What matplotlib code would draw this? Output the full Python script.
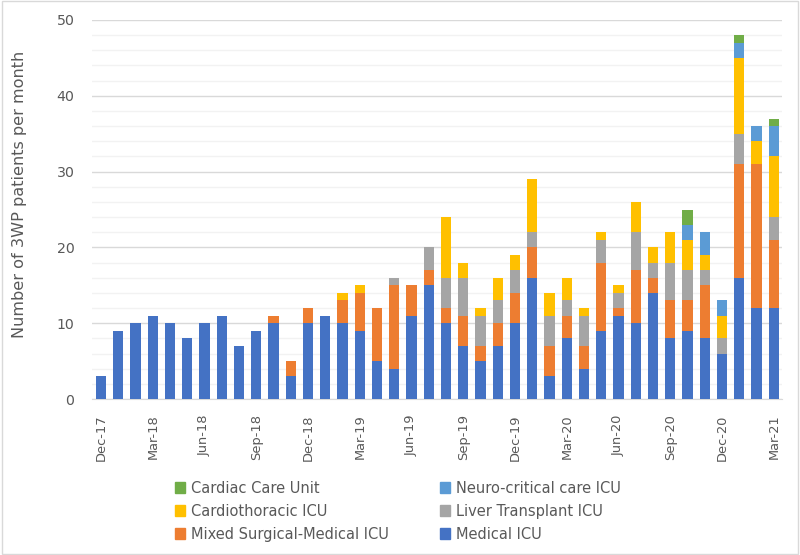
import numpy as np
import pandas as pd
import matplotlib
matplotlib.use('Agg')
import matplotlib.pyplot as plt
from matplotlib.patches import Patch

# --- data (patients per month, Dec-17 .. Mar-21) ---
months = pd.date_range('2017-12-01', '2021-03-01', freq='MS')
month_labels = [m.strftime('%b-%y') for m in months]

medical = [3, 9, 10, 11, 10, 8, 10, 11, 7, 9, 10, 3, 10, 11, 10, 9, 5, 4, 11, 15,
           10, 7, 5, 7, 10, 16, 3, 8, 4, 9, 11, 10, 14, 8, 9, 8, 6, 16, 12, 12]
mixed = [0, 0, 0, 0, 0, 0, 0, 0, 0, 0, 1, 2, 2, 0, 3, 5, 7, 11, 4, 2,
         2, 4, 2, 3, 4, 4, 4, 3, 3, 9, 1, 7, 2, 5, 4, 7, 0, 15, 19, 9]
liver = [0, 0, 0, 0, 0, 0, 0, 0, 0, 0, 0, 0, 0, 0, 0, 0, 0, 1, 0, 3,
         4, 5, 4, 3, 3, 2, 4, 2, 4, 3, 2, 5, 2, 5, 4, 2, 2, 4, 0, 3]
cardiothoracic = [0, 0, 0, 0, 0, 0, 0, 0, 0, 0, 0, 0, 0, 0, 1, 1, 0, 0, 0, 0,
                  8, 2, 1, 3, 2, 7, 3, 3, 1, 1, 1, 4, 2, 4, 4, 2, 3, 10, 3, 8]
neuro = [0, 0, 0, 0, 0, 0, 0, 0, 0, 0, 0, 0, 0, 0, 0, 0, 0, 0, 0, 0,
         0, 0, 0, 0, 0, 0, 0, 0, 0, 0, 0, 0, 0, 0, 2, 3, 2, 2, 2, 4]
cardiac = [0, 0, 0, 0, 0, 0, 0, 0, 0, 0, 0, 0, 0, 0, 0, 0, 0, 0, 0, 0,
           0, 0, 0, 0, 0, 0, 0, 0, 0, 0, 0, 0, 0, 0, 2, 0, 0, 1, 0, 1]

series = [
    ('Medical ICU', medical, '#4472C4'),
    ('Mixed Surgical-Medical ICU', mixed, '#ED7D31'),
    ('Liver Transplant ICU', liver, '#A5A5A5'),
    ('Cardiothoracic ICU', cardiothoracic, '#FFC000'),
    ('Neuro-critical care ICU', neuro, '#5B9BD5'),
    ('Cardiac Care Unit', cardiac, '#70AD47'),
]

TEXT = '#595959'

fig = plt.figure(figsize=(8, 5.55), dpi=100)
ax = fig.add_axes([0.1155, 0.281, 0.8625, 0.683])

x = np.arange(len(month_labels))
bottom = np.zeros(len(x))
colors = {}
for name, vals, col in series:
    vals = np.array(vals, dtype=float)
    ax.bar(x, vals, width=0.6, bottom=bottom, color=col, zorder=3)
    bottom += vals
    colors[name] = col

ax.set_xlim(-0.5, len(x) - 0.5)
ax.set_ylim(0, 50)
ax.set_yticks(range(0, 51, 10))
ax.set_yticks(range(0, 51, 2), minor=True)
ax.grid(axis='y', which='major', color='#D9D9D9', lw=1, zorder=0)
ax.grid(axis='y', which='minor', color='#F2F2F2', lw=1, zorder=0)
ax.tick_params(axis='y', which='both', length=0, labelsize=10.2, colors=TEXT, pad=13)

ax.set_xticks(x[::3])
ax.set_xticklabels(month_labels[::3], rotation=90, fontsize=9.4, color=TEXT)
ax.tick_params(axis='x', length=0, pad=11)

for s in ['top', 'right', 'left']:
    ax.spines[s].set_visible(False)
ax.spines['bottom'].set_color('#D9D9D9')

ax.set_ylabel('Number of 3WP patients per month', fontsize=11.6, color=TEXT)
ax.yaxis.set_label_coords(-0.095, 0.541)

legend_order = ['Cardiac Care Unit', 'Cardiothoracic ICU', 'Mixed Surgical-Medical ICU',
                'Neuro-critical care ICU', 'Liver Transplant ICU', 'Medical ICU']
handles = [Patch(color=colors[n], label=n) for n in legend_order]
leg = fig.legend(handles=handles, ncol=2, loc='upper left', bbox_to_anchor=(0.2025, 0.1577),
                 frameon=False, fontsize=10.5, handlelength=0.7, handleheight=0.7,
                 handletextpad=0.4, columnspacing=3.5, labelspacing=0.55)
plt.setp(leg.get_texts(), color=TEXT)

fig.patches.append(plt.Rectangle((0.002, 0.002), 0.996, 0.996, transform=fig.transFigure,
                                 fill=False, edgecolor='#D9D9D9', lw=1))

fig.savefig('out.png', dpi=100)
